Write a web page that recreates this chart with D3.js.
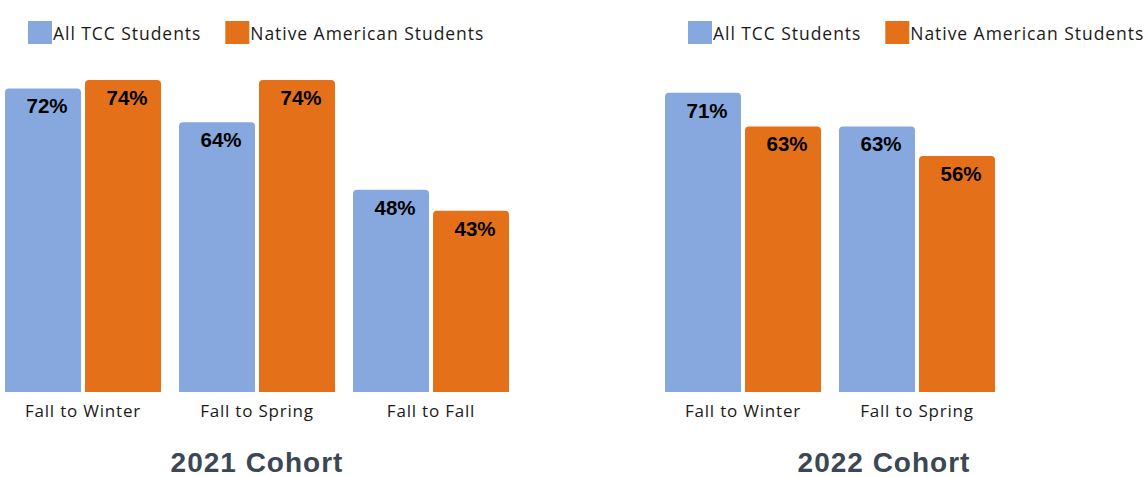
<!DOCTYPE html>
<html>
<head>
<meta charset="utf-8">
<script src="https://cdn.jsdelivr.net/npm/d3@7"></script>
<style>
  html, body { margin: 0; padding: 0; background: #ffffff; }
  svg { display: block; }
</style>
</head>
<body>
<svg id="chart" width="1148" height="477"></svg>
<script>
// ---- data ----
const seriesNames = ["All TCC Students", "Native American Students"];
const seriesKeys = ["all", "native"];
const seriesColors = ["#87a8de", "#e47119"];

const categories2021 = ["Fall to Winter", "Fall to Spring", "Fall to Fall"];
const allTcc2021 = [72, 64, 48];
const native2021 = [74, 74, 43];

const categories2022 = ["Fall to Winter", "Fall to Spring"];
const allTcc2022 = [71, 63];
const native2022 = [63, 56];

const titles = ["2021 Cohort", "2022 Cohort"];

// ---- layout ----
const svg = d3.select("#chart");
const baseY = 392;
const y = d3.scaleLinear().domain([0, 100]).range([baseY, baseY - 421.6]);
const groupStep = 174, groupGap = 18;

function rectTopRounded(x, yTop, w, h, r) {
  r = Math.min(r, h, w / 2);
  return `M${x},${yTop + h}V${yTop + r}Q${x},${yTop} ${x + r},${yTop}H${x + w - r}Q${x + w},${yTop} ${x + w},${yTop + r}V${yTop + h}Z`;
}

function drawPanel(opts) {
  const { x0, categories, allVals, nativeVals, title, titleX } = opts;
  const data = categories.map((c, i) => ({ cat: c, all: allVals[i], native: nativeVals[i] }));
  const x = d3.scaleBand()
    .domain(categories)
    .range([x0, x0 + categories.length * groupStep - groupGap])
    .paddingInner(groupGap / groupStep)
    .paddingOuter(0);
  const xs = d3.scaleBand()
    .domain(seriesKeys)
    .range([0, x.bandwidth()])
    .paddingInner(0.05)
    .paddingOuter(0);

  const g = svg.append("g");

  // legend
  const leg = g.append("g").attr("transform", `translate(${x0 + 23},0)`);
  let lx = 0;
  seriesNames.forEach((name, i) => {
    leg.append("rect").attr("x", lx).attr("y", 21).attr("width", 24).attr("height", 23)
      .attr("fill", seriesColors[i]);
    const t = leg.append("text").attr("x", lx + 25).attr("y", 39.5)
      .attr("font-family", "'Open Sans', sans-serif").attr("font-size", 17.5)
      .attr("letter-spacing", "0.95px")
      .attr("fill", "#1a1a1a").text(name);
    lx += 25 + t.node().getComputedTextLength() + 24;
  });

  // bars
  const groups = g.selectAll("g.grp").data(data).join("g")
    .attr("class", "grp")
    .attr("transform", d => `translate(${x(d.cat)},0)`);

  groups.selectAll("path.bar")
    .data(d => seriesKeys.map((k, i) => ({ key: k, value: d[k], color: seriesColors[i] })))
    .join("path")
    .attr("class", "bar")
    .attr("d", d => rectTopRounded(xs(d.key), y(d.value), xs.bandwidth(), baseY - y(d.value), 4))
    .attr("fill", d => d.color);

  groups.selectAll("text.val")
    .data(d => seriesKeys.map(k => ({ key: k, value: d[k] })))
    .join("text")
    .attr("class", "val")
    .attr("x", d => xs(d.key) + xs.bandwidth() / 2 + 4)
    .attr("y", d => y(d.value) + 25)
    .attr("text-anchor", "middle")
    .attr("font-family", "'Liberation Sans', Arial, sans-serif")
    .attr("font-weight", "bold")
    .attr("font-size", 20.5)
    .attr("fill", "#000")
    .text(d => d.value + "%");

  // category axis labels
  groups.append("text")
    .attr("x", x.bandwidth() / 2)
    .attr("y", 417)
    .attr("text-anchor", "middle")
    .attr("font-family", "'Open Sans', sans-serif")
    .attr("font-size", 17)
    .attr("letter-spacing", "0.8px")
    .attr("fill", "#1a1a1a")
    .text(d => d.cat);

  // title
  g.append("text")
    .attr("x", titleX)
    .attr("y", 472)
    .attr("text-anchor", "middle")
    .attr("font-family", "'Liberation Sans', Arial, sans-serif")
    .attr("font-weight", "bold")
    .attr("font-size", 28)
    .attr("letter-spacing", "1px")
    .attr("fill", "#3b4754")
    .text(title);
}

drawPanel({ x0: 5, categories: categories2021, allVals: allTcc2021, nativeVals: native2021, title: titles[0], titleX: 257 });
drawPanel({ x0: 665, categories: categories2022, allVals: allTcc2022, nativeVals: native2022, title: titles[1], titleX: 884 });
</script>
</body>
</html>
